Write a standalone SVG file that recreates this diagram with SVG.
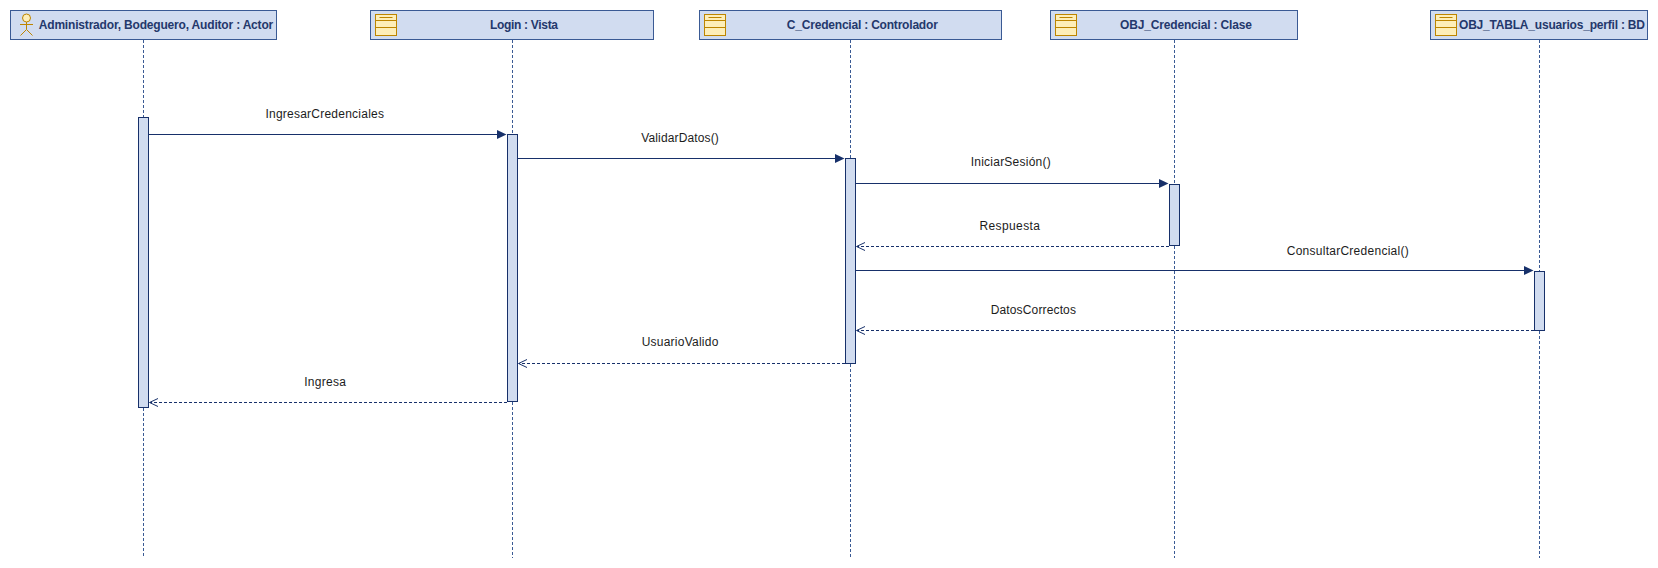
<svg xmlns="http://www.w3.org/2000/svg" width="1658" height="568" viewBox="0 0 1658 568">
<style>
.h{fill:#d1dcf0;stroke:#3a5a94;stroke-width:1}
.t{font:bold 12px "Liberation Sans",Arial,sans-serif;fill:#24386c;text-anchor:middle}
.l{font:12px "Liberation Sans",Arial,sans-serif;fill:#1c1c1c;text-anchor:middle}
.i{fill:#fdeeb9;stroke:#bd8500;stroke-width:1}
.ln{stroke:#bd8500;stroke-width:1;fill:none}
.life{stroke:#3a5a94;stroke-width:1;stroke-dasharray:3 2;fill:none}
.a{fill:#d1dcf0;stroke:#17306a;stroke-width:1}
.m{stroke:#17306a;stroke-width:1;fill:none}
.d{stroke-dasharray:3 2}
.f{fill:#17306a;stroke:none}
.o{stroke:#17306a;stroke-width:1;fill:none}
</style>
<defs>
<g id="cls"><rect class="i" x="0" y="0" width="21" height="21"/><path class="ln" d="M0 6H21M0 13H21M4 3H17"/></g>
</defs>
<g id="lifelines">
<path class="life" d="M143.500 40V117"/><path class="life" d="M143.500 408V558"/>
<path class="life" d="M512.500 40V134"/><path class="life" d="M512.500 402V558"/>
<path class="life" d="M850.500 40V158"/><path class="life" d="M850.500 364V558"/>
<path class="life" d="M1174.500 40V184"/><path class="life" d="M1174.500 246V558"/>
<path class="life" d="M1539.500 40V271"/><path class="life" d="M1539.500 331V558"/>
</g>
<g id="actor"><rect class="h" x="10.500" y="10.500" width="266" height="29"/>
<circle class="i" cx="26.500" cy="18" r="4"/><path class="ln" d="M26.500 22V29.500M20 24.500H33M26.500 29.500L20.500 35.500M26.500 29.500L32.500 35.500"/>
<text class="t" x="156" y="29" textLength="234.500">Administrador, Bodeguero, Auditor : Actor</text></g>
<g id="login"><rect class="h" x="370.500" y="10.500" width="283" height="29"/><use href="#cls" x="375.500" y="14.500"/>
<text class="t" x="524" y="29" textLength="68">Login : Vista</text></g>
<g id="controlador"><rect class="h" x="699.500" y="10.500" width="302" height="29"/><use href="#cls" x="704.500" y="14.500"/>
<text class="t" x="862.300" y="29" textLength="151">C_Credencial : Controlador</text></g>
<g id="clase"><rect class="h" x="1050.500" y="10.500" width="247" height="29"/><use href="#cls" x="1055.500" y="14.500"/>
<text class="t" x="1186" y="29" textLength="132">OBJ_Credencial : Clase</text></g>
<g id="bd"><rect class="h" x="1430.500" y="10.500" width="217" height="29"/><use href="#cls" x="1435.500" y="14.500"/>
<text class="t" x="1552" y="29" textLength="186">OBJ_TABLA_usuarios_perfil : BD</text></g>
<g id="activations">
<rect class="a" x="138.500" y="117.500" width="10" height="290"/>
<rect class="a" x="507.500" y="134.500" width="10" height="267"/>
<rect class="a" x="845.500" y="158.500" width="10" height="205"/>
<rect class="a" x="1169.500" y="184.500" width="10" height="61"/>
<rect class="a" x="1534.500" y="271.500" width="10" height="59"/>
</g>
<g id="connectors">
<path class="m" d="M149 134.500H498"/><path class="f" d="M497 130V139L506.500 134.500Z"/>
<path class="m" d="M518 158.500H836"/><path class="f" d="M835 154V163L844.500 158.500Z"/>
<path class="m" d="M856 183.500H1160"/><path class="f" d="M1159 179V188L1168.500 183.500Z"/>
<path class="m" d="M856 270.500H1525"/><path class="f" d="M1524 266V275L1533.500 270.500Z"/>
<path class="m d" d="M1169 246.500H857"/><path class="o" d="M865 242.500L856.500 246.500L865 250.500"/>
<path class="m d" d="M1534 330.500H857"/><path class="o" d="M865 326.500L856.500 330.500L865 334.500"/>
<path class="m d" d="M845 363.500H519"/><path class="o" d="M527 359.500L518.500 363.500L527 367.500"/>
<path class="m d" d="M507 402.500H150"/><path class="o" d="M158 398.500L149.500 402.500L158 406.500"/>
</g>
<g id="labels">
<text class="l" x="324.700" y="118" textLength="118.500">IngresarCredenciales</text>
<text class="l" x="680" y="142" textLength="77.500">ValidarDatos()</text>
<text class="l" x="1010.700" y="166" textLength="80">IniciarSesión()</text>
<text class="l" x="1009.700" y="230" textLength="60.500">Respuesta</text>
<text class="l" x="1347.700" y="255" textLength="122">ConsultarCredencial()</text>
<text class="l" x="1033.300" y="314" textLength="85.300">DatosCorrectos</text>
<text class="l" x="680" y="346" textLength="76.700">UsuarioValido</text>
<text class="l" x="325" y="386" textLength="41.700">Ingresa</text>
</g>
</svg>
